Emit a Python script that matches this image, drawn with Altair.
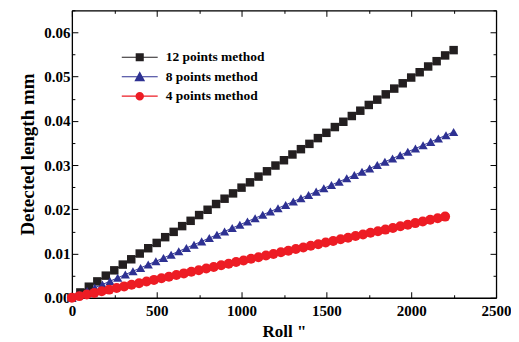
import altair as alt
import pandas as pd

series_names = ["12 points method", "8 points method", "4 points method"]
series_colors = ["#231f20", "#2e3192", "#ed1c24"]
series_shapes = ["square", "triangle-up", "circle"]
series_sizes = [72, 100, 80]

roll_12 = [0, 50, 100, 150, 200, 250, 300, 350, 400, 450, 500, 550, 600, 650, 700,
           750, 800, 850, 900, 950, 1000, 1050, 1100, 1150, 1200, 1250, 1300, 1350,
           1400, 1450, 1500, 1550, 1600, 1650, 1700, 1750, 1800, 1850, 1900, 1950,
           2000, 2050, 2100, 2150, 2200, 2250]
length_12 = [0.0000, 0.0012, 0.0025, 0.0037, 0.0050, 0.0062, 0.0075, 0.0087, 0.0100,
             0.0112, 0.0124, 0.0137, 0.0149, 0.0162, 0.0174, 0.0187, 0.0199, 0.0212,
             0.0224, 0.0236, 0.0249, 0.0261, 0.0274, 0.0286, 0.0299, 0.0311, 0.0324,
             0.0336, 0.0348, 0.0361, 0.0373, 0.0386, 0.0398, 0.0411, 0.0423, 0.0436,
             0.0448, 0.0460, 0.0473, 0.0485, 0.0498, 0.0510, 0.0523, 0.0535, 0.0548,
             0.0560]

roll_8 = [0, 45, 90, 135, 180, 225, 270, 315, 360, 405, 450, 495, 540, 585, 630, 675,
          720, 765, 810, 855, 900, 945, 990, 1035, 1080, 1125, 1170, 1215, 1260, 1305,
          1350, 1395, 1440, 1485, 1530, 1575, 1620, 1665, 1710, 1755, 1800, 1845, 1890,
          1935, 1980, 2025, 2070, 2115, 2160, 2205, 2250]
length_8 = [0.0, 0.00075, 0.0015, 0.00225, 0.0030, 0.00375, 0.0045, 0.00525, 0.0060,
            0.00675, 0.0075, 0.00825, 0.0090, 0.00975, 0.0105, 0.01125, 0.0120, 0.01275,
            0.0135, 0.01425, 0.0150, 0.01575, 0.0165, 0.01725, 0.0180, 0.01875, 0.0195,
            0.02025, 0.0210, 0.02175, 0.0225, 0.02325, 0.0240, 0.02475, 0.0255, 0.02625,
            0.0270, 0.02775, 0.0285, 0.02925, 0.0300, 0.03075, 0.0315, 0.03225, 0.0330,
            0.03375, 0.0345, 0.03525, 0.0360, 0.03675, 0.0375]

roll_4 = [0, 44, 88, 132, 176, 220, 264, 308, 352, 396, 440, 484, 528, 572, 616, 660,
          704, 748, 792, 836, 880, 924, 968, 1012, 1056, 1100, 1144, 1188, 1232, 1276,
          1320, 1364, 1408, 1452, 1496, 1540, 1584, 1628, 1672, 1716, 1760, 1804, 1848,
          1892, 1936, 1980, 2024, 2068, 2112, 2156, 2200]
length_4 = [0.0, 0.00037, 0.00073, 0.0011, 0.00147, 0.00184, 0.0022, 0.00257, 0.00294,
            0.0033, 0.00367, 0.00404, 0.0044, 0.00477, 0.00514, 0.00551, 0.00587, 0.00624,
            0.00661, 0.00697, 0.00734, 0.00771, 0.00807, 0.00844, 0.00881, 0.00918,
            0.00954, 0.00991, 0.01028, 0.01064, 0.01101, 0.01138, 0.01174, 0.01211,
            0.01248, 0.01285, 0.01321, 0.01358, 0.01395, 0.01431, 0.01468, 0.01505,
            0.01541, 0.01578, 0.01615, 0.01652, 0.01688, 0.01725, 0.01762, 0.01798,
            0.01835]

x_ticks = [0, 250, 500, 750, 1000, 1250, 1500, 1750, 2000, 2250, 2500]
y_ticks = [0.0, 0.005, 0.01, 0.015, 0.02, 0.025, 0.03, 0.035, 0.04, 0.045, 0.05,
           0.055, 0.06, 0.065]

rows = []
for name, rolls, lens in zip(series_names, [roll_12, roll_8, roll_4],
                             [length_12, length_8, length_4]):
    for r, v in zip(rolls, lens):
        rows.append({"series": name, "roll": r, "length": v})
df = pd.DataFrame(rows)

FONT = "Times New Roman, Liberation Serif, serif"
x_scale = alt.Scale(domain=[0, 2500], nice=False, zero=False)
y_scale = alt.Scale(domain=[0, 0.065], nice=False, zero=False)
x_major = "datum.value % 500 === 0"
y_major = "abs(datum.value * 100 - round(datum.value * 100)) < 1e-6"
x_tick_size = alt.ExprRef(expr=f"{x_major} ? -6 : -3")
y_tick_size = alt.ExprRef(expr=f"{y_major} ? -6 : -3")

common = dict(domainColor="black", domainWidth=1.3, tickColor="black", tickWidth=1,
              grid=False, labelFlush=False, labelOverlap=False)
label_style = dict(labelFont=FONT, labelFontWeight="bold", labelFontSize=15,
                   labelColor="black")
title_style = dict(titleFont=FONT, titleFontWeight="bold", titleColor="black")

x_bottom = alt.Axis(orient="bottom", values=x_ticks, tickSize=x_tick_size, format="d",
                    labelExpr=f"{x_major} ? datum.label : ''", labelPadding=12,
                    title='Roll "', titlePadding=2, titleFontSize=17,
                    **label_style, **title_style, **common)
y_left = alt.Axis(orient="left", values=y_ticks, tickSize=y_tick_size, format=".2f",
                  labelExpr=f"{y_major} ? datum.label : ''", labelPadding=8,
                  title="Detected length mm", titlePadding=6, titleFontSize=19,
                  **label_style, **title_style, **common)
x_top = alt.Axis(orient="top", values=x_ticks, tickSize=x_tick_size, labels=False,
                 title=None, **common)
y_right = alt.Axis(orient="right", values=y_ticks, tickSize=y_tick_size, labels=False,
                   title=None, **common)

color_scale = alt.Scale(domain=series_names, range=series_colors)
shape_scale = alt.Scale(domain=series_names, range=series_shapes)
size_scale = alt.Scale(domain=series_names, range=series_sizes)

base = alt.Chart(df)

lines = base.mark_line(strokeWidth=1, opacity=1).encode(
    x=alt.X("roll:Q", scale=x_scale, axis=x_bottom),
    y=alt.Y("length:Q", scale=y_scale, axis=y_left),
    color=alt.Color("series:N", scale=color_scale, legend=None),
    order="roll:Q",
)

points = base.mark_point(filled=True, opacity=1, strokeWidth=0).encode(
    x=alt.X("roll:Q", scale=x_scale, axis=x_top),
    y=alt.Y("length:Q", scale=y_scale, axis=y_right),
    color=alt.Color("series:N", scale=color_scale, legend=None),
    shape=alt.Shape("series:N", scale=shape_scale, legend=None),
    size=alt.Size("series:N", scale=size_scale, legend=None),
)

seg = "M-2,-0.06H2V0.06H-2Z"
legend_paths = [
    seg + "M-0.45,-0.45H0.45V0.45H-0.45Z",
    seg + "M0,-0.6L0.6,0.5L-0.6,0.5Z",
    seg + "M-0.47,0A0.47,0.47,0,1,1,0.47,0A0.47,0.47,0,1,1,-0.47,0Z",
]
legend_def = alt.Legend(
    title=None, orient="none", legendX=59, legendY=38, padding=0,
    symbolSize=324, symbolStrokeWidth=0, symbolOpacity=1, labelOffset=17,
    rowPadding=3.5, labelFont=FONT, labelFontWeight="bold", labelFontSize=13.5,
    labelColor="black",
    labelExpr="datum.label == '12 points method' ? datum.label : '\u2007' + datum.label",
)
legend_layer = base.transform_filter("false").mark_point(
    filled=True, opacity=1, size=324, strokeWidth=0
).encode(
    x=alt.X("roll:Q", scale=x_scale, axis=None),
    y=alt.Y("length:Q", scale=y_scale, axis=None),
    color=alt.Color("series:N", scale=alt.Scale(domain=series_names, range=series_colors),
                    legend=legend_def),
    shape=alt.Shape("series:N", scale=alt.Scale(domain=series_names, range=legend_paths),
                    legend=legend_def),
)

chart = alt.layer(lines, points, legend_layer).resolve_scale(
    color="independent", shape="independent"
).resolve_axis(
    x="independent", y="independent"
).properties(
    width=425, height=288,
    padding={"left": 10, "top": -5, "right": 0, "bottom": 0},
).configure_view(stroke=None).configure(background="white")

chart.save("out.html", embed_options={"renderer": "svg", "actions": False})
